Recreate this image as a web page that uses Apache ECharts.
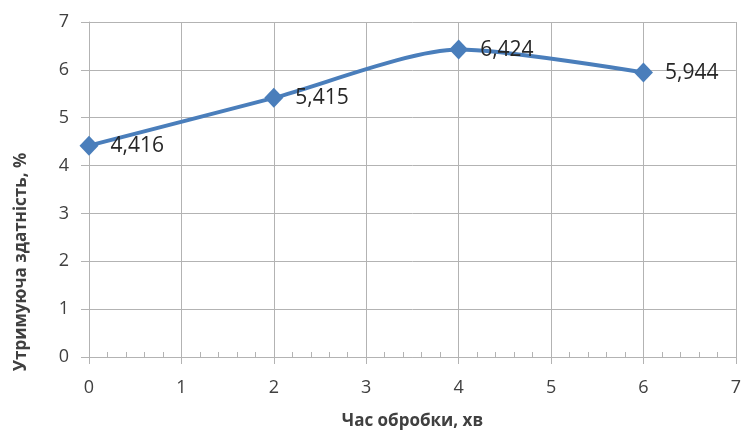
<!DOCTYPE html>
<html>
<head>
<meta charset="utf-8">
<script src="https://cdn.jsdelivr.net/npm/echarts@6/dist/echarts.min.js"></script>
<style>
html,body{margin:0;padding:0;background:#fff;}
#chart{width:744px;height:435px;}
</style>
</head>
<body>
<div id="chart"></div>
<script>
const xValues = [0, 2, 4, 6];
const yValues = [4.416, 5.415, 6.424, 5.944];
const xTitle = 'Час обробки, хв';
const yTitle = 'Утримуюча здатність, %';

const chart = echarts.init(document.getElementById('chart'), null, {renderer: 'canvas'});
const fontFam = '"Open Sans", "Noto Sans", sans-serif';
const gray = '#b3b3b3';
const textCol = '#404040';

chart.setOption({
  animation: false,
  backgroundColor: '#ffffff',
  grid: {left: 89, right: 1, top: 22, bottom: 77, containLabel: false},
  xAxis: {
    type: 'value', min: 0, max: 7, interval: 1,
    name: xTitle, nameLocation: 'middle', nameGap: 56,
    nameTextStyle: {fontFamily: fontFam, fontSize: 17, fontWeight: 'bold', color: textCol},
    axisLine: {show: true, lineStyle: {color: gray, width: 1}},
    axisTick: {show: true, inside: false, length: 7, lineStyle: {color: gray}},
    minorTick: {show: true, splitNumber: 5, length: -5, lineStyle: {color: gray}},
    axisLabel: {fontFamily: fontFam, fontSize: 18, color: textCol, margin: 22},
    splitLine: {show: true, lineStyle: {color: gray, width: 1}}
  },
  yAxis: {
    type: 'value', min: 0, max: 7, interval: 1,
    axisLine: {show: true, lineStyle: {color: gray, width: 1}},
    axisTick: {show: true, length: 8, lineStyle: {color: gray}},
    axisLabel: {fontFamily: fontFam, fontSize: 18, color: textCol, margin: 20},
    splitLine: {show: true, lineStyle: {color: gray, width: 1}}
  },
  graphic: [{
    type: 'text', x: 21, y: 262, rotation: Math.PI / 2,
    style: {text: yTitle, fontFamily: fontFam, fontSize: 17, fontWeight: 'bold', fill: textCol,
      textAlign: 'center', textVerticalAlign: 'middle'}
  }],
  series: [{
    type: 'line',
    data: xValues.map((x, i) => [x, yValues[i]]),
    smooth: 0.25,
    symbol: 'diamond',
    symbolSize: [19, 20],
    lineStyle: {color: '#4a7ebb', width: 4},
    itemStyle: {color: '#4a7ebb'},
    label: {
      show: true, position: 'right', distance: 12,
      fontFamily: fontFam, fontSize: 21, color: '#262626',
      formatter: p => String(p.value[1]).replace('.', ',')
    }
  }]
});
</script>
</body>
</html>
